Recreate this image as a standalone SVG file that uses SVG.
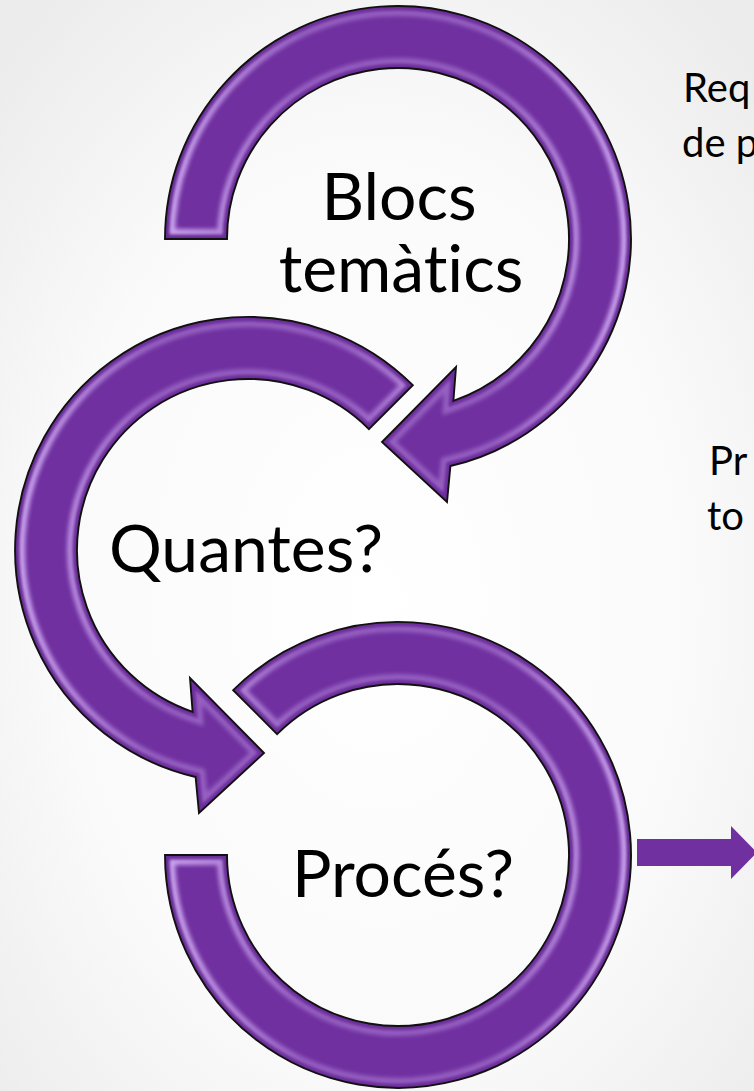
<svg xmlns="http://www.w3.org/2000/svg" xmlns:xlink="http://www.w3.org/1999/xlink" width="754" height="1091" viewBox="0 0 754 1091">
<style>
.body{fill:#7030A0;}
.hl{fill:none;stroke:#cfa9f2;stroke-width:20;filter:url(#b2);}
.hl2{fill:none;stroke:#662c94;stroke-width:9;filter:url(#b1);}
.outline{fill:none;stroke:#111;stroke-width:1.9;stroke-linejoin:miter;}
.big{font-family:Lato,"Liberation Sans",sans-serif;font-size:66px;fill:#000;text-anchor:middle;font-variant-ligatures:none;}
.side{font-family:Lato,"Liberation Sans",sans-serif;font-size:40px;fill:#000;font-variant-ligatures:none;}
.flat{fill:#7030A0;}
</style>
<defs>
<path id="a1" d="M165 239 A233 233 0 1 1 450.4 466 L447 502 L382 442 L456 367 L453.4 400.8 A171 171 0 1 0 227 239 Z"/>
<path id="a2" d="M412.8 385.2 A233 233 0 1 0 195.6 777 L199 813 L264 753 L190 678 L192.6 711.8 A171 171 0 1 1 368.9 429.1 Z"/>
<path id="a3" d="M233.2 690.2 A233 233 0 1 1 165 855 L227 855 A171 171 0 1 0 277.1 734.1 Z"/>
<clipPath id="c1"><use xlink:href="#a1"/></clipPath>
<clipPath id="c2"><use xlink:href="#a2"/></clipPath>
<clipPath id="c3"><use xlink:href="#a3"/></clipPath>
<filter id="b1" x="-10%" y="-10%" width="120%" height="120%"><feGaussianBlur stdDeviation="1.5"/></filter>
<filter id="b2" x="-10%" y="-10%" width="120%" height="120%"><feGaussianBlur stdDeviation="2"/></filter>
<linearGradient id="hg" x1="0" y1="0" x2="1" y2="0">
<stop offset="0" stop-color="#fff" stop-opacity="1"/>
<stop offset="0.3" stop-color="#fff" stop-opacity="0.4"/>
<stop offset="0.7" stop-color="#fff" stop-opacity="0.4"/>
<stop offset="1" stop-color="#fff" stop-opacity="1"/>
</linearGradient>
<mask id="m1"><rect x="160" y="0" width="476" height="520" fill="url(#hg)"/></mask>
<mask id="m2"><rect x="10" y="310" width="476" height="520" fill="url(#hg)"/></mask>
<mask id="m3"><rect x="160" y="615" width="476" height="476" fill="url(#hg)"/></mask>
<radialGradient id="bg" cx="0.5" cy="0.55" r="0.7">
<stop offset="0" stop-color="#ffffff"/>
<stop offset="0.6" stop-color="#fafafa"/>
<stop offset="1" stop-color="#ececec"/>
</radialGradient>
</defs>
<rect width="754" height="1091" fill="url(#bg)"/>

<g id="node-blocs">
<use xlink:href="#a1" class="body"/>
<g clip-path="url(#c1)" mask="url(#m1)"><use xlink:href="#a1" class="hl"/><use xlink:href="#a1" class="hl2"/></g>
<use xlink:href="#a1" class="outline"/>
<text class="big" x="399" y="220">Blocs</text>
<text class="big" x="401" y="292">temàtics</text>
</g>

<g id="node-quantes">
<use xlink:href="#a2" class="body"/>
<g clip-path="url(#c2)" mask="url(#m2)"><use xlink:href="#a2" class="hl"/><use xlink:href="#a2" class="hl2"/></g>
<use xlink:href="#a2" class="outline"/>
<text class="big" x="246" y="572">Quantes?</text>
</g>

<g id="node-proces">
<use xlink:href="#a3" class="body"/>
<g clip-path="url(#c3)" mask="url(#m3)"><use xlink:href="#a3" class="hl"/><use xlink:href="#a3" class="hl2"/></g>
<use xlink:href="#a3" class="outline"/>
<text class="big" x="403" y="897">Procés?</text>
</g>

<g id="connectors">
<path class="flat" d="M637 839 L731 839 L731 826 L757 852.5 L731 879 L731 866 L637 866 Z"/>
</g>

<g id="note-req">
<text class="side" x="683" y="102">Req</text>
<text class="side" x="682" y="157">de p</text>
</g>
<g id="note-pr">
<text class="side" x="709" y="475">Pr</text>
<text class="side" x="707" y="530">to</text>
</g>
</svg>
